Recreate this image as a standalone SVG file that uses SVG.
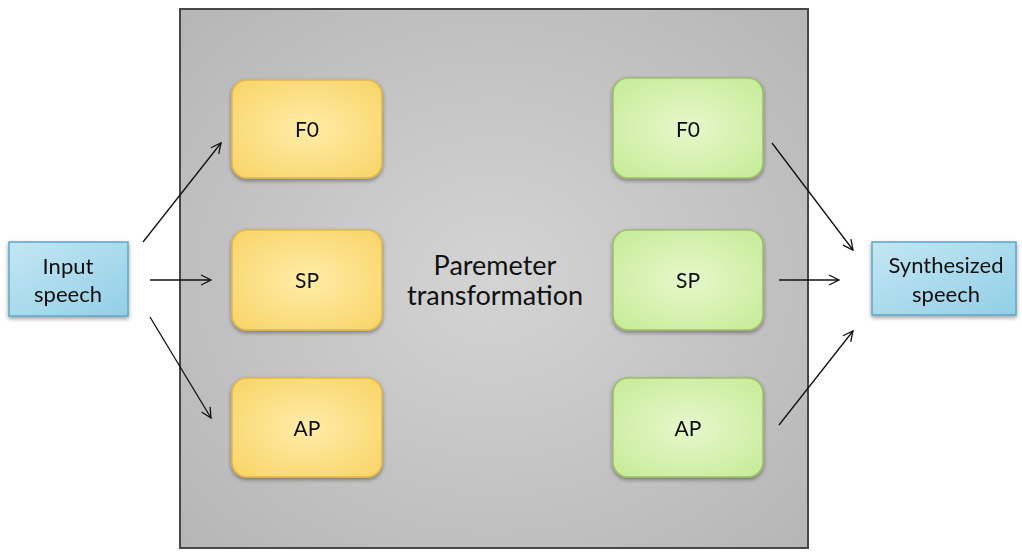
<svg xmlns="http://www.w3.org/2000/svg" width="1022" height="552" viewBox="0 0 1022 552">
<defs>
<radialGradient id="gGray" cx="0.5" cy="0.5" r="0.7">
<stop offset="0" stop-color="#d4d4d4"/>
<stop offset="1" stop-color="#b6b6b6"/>
</radialGradient>
<radialGradient id="gYel" cx="0.5" cy="0.5" r="0.7">
<stop offset="0" stop-color="#feeca8"/>
<stop offset="1" stop-color="#f9d466"/>
</radialGradient>
<radialGradient id="gGrn" cx="0.5" cy="0.5" r="0.7">
<stop offset="0" stop-color="#e6f8cc"/>
<stop offset="1" stop-color="#c6eb96"/>
</radialGradient>
<linearGradient id="gBlu" x1="0" y1="0" x2="1" y2="1">
<stop offset="0" stop-color="#c4e6f3"/>
<stop offset="1" stop-color="#92cfe6"/>
</linearGradient>
<filter id="sh" x="-20%" y="-20%" width="140%" height="150%">
<feGaussianBlur in="SourceAlpha" stdDeviation="2"/>
<feOffset dx="0" dy="2" result="b"/>
<feComponentTransfer><feFuncA type="linear" slope="0.4"/></feComponentTransfer>
<feMerge><feMergeNode/><feMergeNode in="SourceGraphic"/></feMerge>
</filter>
<marker id="arr" viewBox="0 0 12 12" refX="11" refY="6" markerWidth="12" markerHeight="12" markerUnits="userSpaceOnUse" orient="auto">
<path d="M1,1 L11,6 L1,11" fill="none" stroke="#111" stroke-width="1.3"/>
</marker>
</defs>
<style>
.t{font-family:"Lato","Open Sans","DejaVu Sans",sans-serif;fill:#111;text-anchor:middle}
.yel{fill:url(#gYel);stroke:#e4b648;stroke-width:1.5}
.grn{fill:url(#gGrn);stroke:#9dbd6a;stroke-width:1.5}
.blu{fill:url(#gBlu);stroke:#5ea7c6;stroke-width:1.5}
.c{stroke:#111;stroke-width:1.3;fill:none;marker-end:url(#arr)}
</style>
<rect width="1022" height="552" fill="#ffffff"/>
<g id="container">
<rect x="180" y="9" width="628" height="539" fill="url(#gGray)" stroke="#474747" stroke-width="2"/>
<text class="t" x="495" y="275" font-size="27">Paremeter</text>
<text class="t" x="495" y="305" font-size="27">transformation</text>
</g>
<g id="input" filter="url(#sh)">
<rect class="blu" x="9" y="242" width="119" height="74"/>
<text class="t" x="68" y="274" font-size="22">Input</text>
<text class="t" x="68" y="302" font-size="22">speech</text>
</g>
<g id="output" filter="url(#sh)">
<rect class="blu" x="872" y="242" width="144" height="73"/>
<text class="t" x="946" y="273" font-size="22">Synthesized</text>
<text class="t" x="946" y="302" font-size="22">speech</text>
</g>
<g id="f0a" filter="url(#sh)">
<rect class="yel" x="232" y="80" width="150" height="98" rx="15"/>
<text class="t" x="307" y="137" font-size="21">F0</text>
</g>
<g id="spa" filter="url(#sh)">
<rect class="yel" x="232" y="230" width="150" height="100" rx="15"/>
<text class="t" x="307" y="288" font-size="21">SP</text>
</g>
<g id="apa" filter="url(#sh)">
<rect class="yel" x="232" y="378" width="150" height="99" rx="15"/>
<text class="t" x="307" y="436" font-size="21">AP</text>
</g>
<g id="f0b" filter="url(#sh)">
<rect class="grn" x="613" y="78" width="150" height="100" rx="15"/>
<text class="t" x="688" y="137" font-size="21">F0</text>
</g>
<g id="spb" filter="url(#sh)">
<rect class="grn" x="613" y="230" width="150" height="100" rx="15"/>
<text class="t" x="688" y="288" font-size="21">SP</text>
</g>
<g id="apb" filter="url(#sh)">
<rect class="grn" x="613" y="378" width="150" height="99" rx="15"/>
<text class="t" x="688" y="436" font-size="21">AP</text>
</g>
<g id="connectors">
<line class="c" x1="143" y1="242" x2="221" y2="143"/>
<line class="c" x1="150" y1="280" x2="211" y2="280"/>
<line class="c" x1="150" y1="317" x2="211" y2="418"/>
<line class="c" x1="772" y1="143" x2="853" y2="250"/>
<line class="c" x1="779" y1="280" x2="839" y2="280"/>
<line class="c" x1="779" y1="425" x2="853" y2="331"/>
</g>
</svg>
